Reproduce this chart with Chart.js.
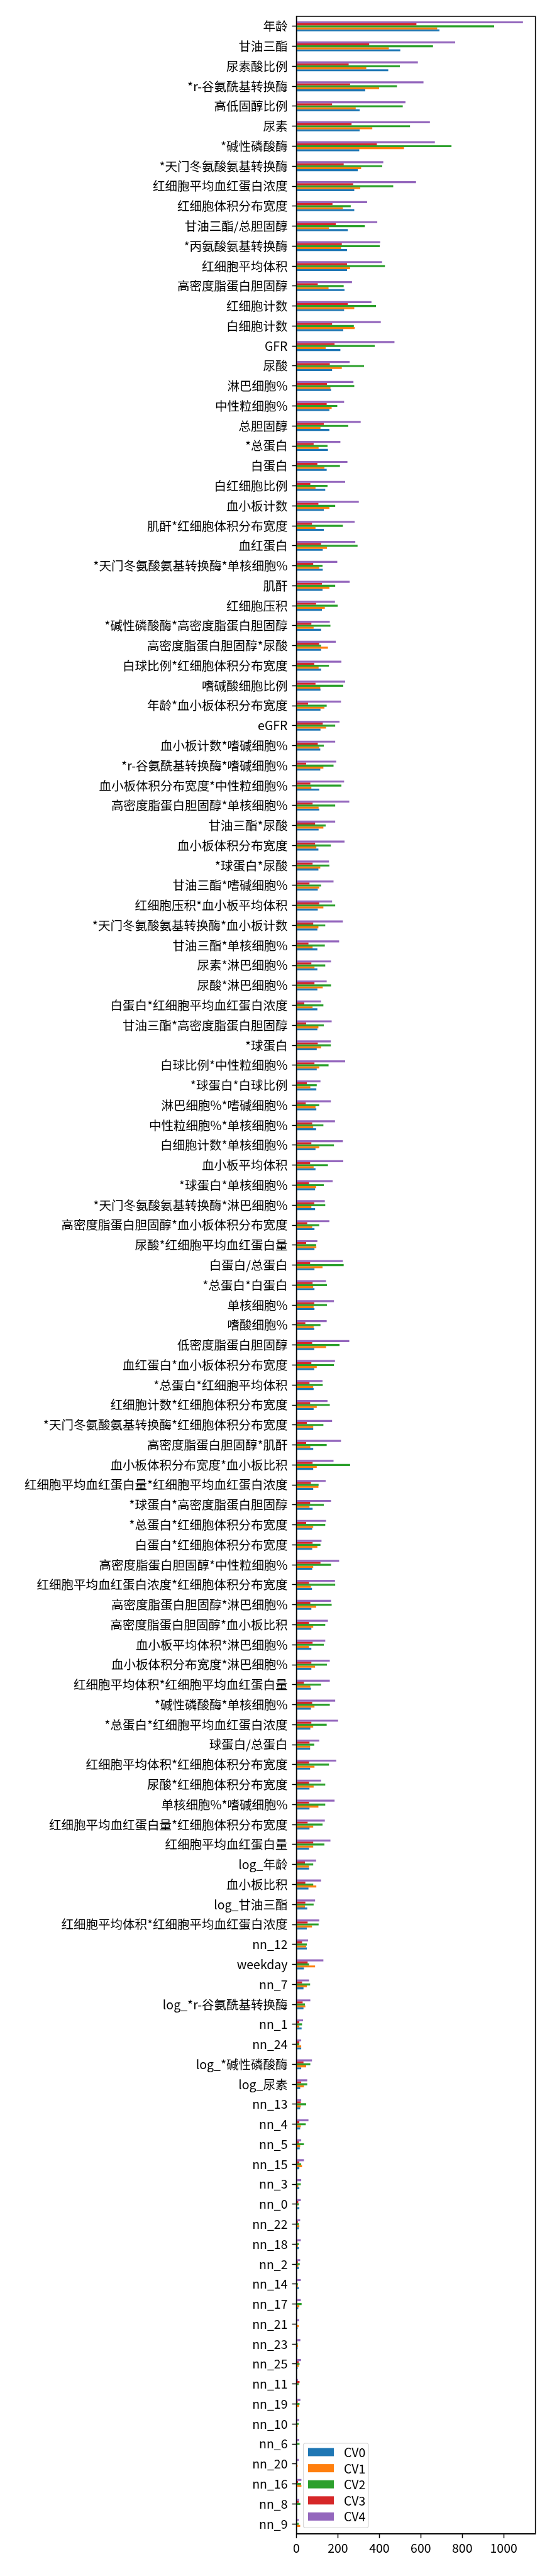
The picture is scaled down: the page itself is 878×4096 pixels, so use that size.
<!DOCTYPE html>
<html><head><meta charset="utf-8">
<script src="https://cdn.jsdelivr.net/npm/chart.js@4.4.1/dist/chart.umd.min.js"></script>
<style>html,body{margin:0;padding:0;background:#fff;} canvas{display:block;}</style>
</head><body>
<canvas id="c" width="878" height="4096" style="width:878px;height:4096px"></canvas>
<script>
const categories = ["年龄","甘油三酯","尿素酸比例","*r-谷氨酰基转换酶","高低固醇比例","尿素","*碱性磷酸酶","*天门冬氨酸氨基转换酶","红细胞平均血红蛋白浓度","红细胞体积分布宽度",
"甘油三酯/总胆固醇","*丙氨酸氨基转换酶","红细胞平均体积","高密度脂蛋白胆固醇","红细胞计数","白细胞计数","GFR","尿酸","淋巴细胞%","中性粒细胞%",
"总胆固醇","*总蛋白","白蛋白","白红细胞比例","血小板计数","肌酐*红细胞体积分布宽度","血红蛋白","*天门冬氨酸氨基转换酶*单核细胞%","肌酐","红细胞压积",
"*碱性磷酸酶*高密度脂蛋白胆固醇","高密度脂蛋白胆固醇*尿酸","白球比例*红细胞体积分布宽度","嗜碱酸细胞比例","年龄*血小板体积分布宽度","eGFR","血小板计数*嗜碱细胞%","*r-谷氨酰基转换酶*嗜碱细胞%","血小板体积分布宽度*中性粒细胞%","高密度脂蛋白胆固醇*单核细胞%",
"甘油三酯*尿酸","血小板体积分布宽度","*球蛋白*尿酸","甘油三酯*嗜碱细胞%","红细胞压积*血小板平均体积","*天门冬氨酸氨基转换酶*血小板计数","甘油三酯*单核细胞%","尿素*淋巴细胞%","尿酸*淋巴细胞%","白蛋白*红细胞平均血红蛋白浓度",
"甘油三酯*高密度脂蛋白胆固醇","*球蛋白","白球比例*中性粒细胞%","*球蛋白*白球比例","淋巴细胞%*嗜碱细胞%","中性粒细胞%*单核细胞%","白细胞计数*单核细胞%","血小板平均体积","*球蛋白*单核细胞%","*天门冬氨酸氨基转换酶*淋巴细胞%",
"高密度脂蛋白胆固醇*血小板体积分布宽度","尿酸*红细胞平均血红蛋白量","白蛋白/总蛋白","*总蛋白*白蛋白","单核细胞%","嗜酸细胞%","低密度脂蛋白胆固醇","血红蛋白*血小板体积分布宽度","*总蛋白*红细胞平均体积","红细胞计数*红细胞体积分布宽度",
"*天门冬氨酸氨基转换酶*红细胞体积分布宽度","高密度脂蛋白胆固醇*肌酐","血小板体积分布宽度*血小板比积","红细胞平均血红蛋白量*红细胞平均血红蛋白浓度","*球蛋白*高密度脂蛋白胆固醇","*总蛋白*红细胞体积分布宽度","白蛋白*红细胞体积分布宽度","高密度脂蛋白胆固醇*中性粒细胞%","红细胞平均血红蛋白浓度*红细胞体积分布宽度","高密度脂蛋白胆固醇*淋巴细胞%",
"高密度脂蛋白胆固醇*血小板比积","血小板平均体积*淋巴细胞%","血小板体积分布宽度*淋巴细胞%","红细胞平均体积*红细胞平均血红蛋白量","*碱性磷酸酶*单核细胞%","*总蛋白*红细胞平均血红蛋白浓度","球蛋白/总蛋白","红细胞平均体积*红细胞体积分布宽度","尿酸*红细胞体积分布宽度","单核细胞%*嗜碱细胞%",
"红细胞平均血红蛋白量*红细胞体积分布宽度","红细胞平均血红蛋白量","log_年龄","血小板比积","log_甘油三酯","红细胞平均体积*红细胞平均血红蛋白浓度","nn_12","weekday","nn_7","log_*r-谷氨酰基转换酶",
"nn_1","nn_24","log_*碱性磷酸酶","log_尿素","nn_13","nn_4","nn_5","nn_15","nn_3","nn_0",
"nn_22","nn_18","nn_2","nn_14","nn_17","nn_21","nn_23","nn_25","nn_11","nn_19",
"nn_10","nn_6","nn_20","nn_16","nn_8","nn_9"];

const cv0 = [690,501,443,332,305,305,303,296,279,279, 248,244,244,232,230,226,212,172,167,159,
159,152,146,139,132,132,127,127,126,123, 119,119,119,116,116,116,115,115,110,110,
107,106,106,103,103,101,101,101,101,101, 101,98,98,96,96,95,92,92,90,90,
87,87,87,87,87,86,86,86,83,83, 81,81,81,81,78,76,76,76,75,72,
72,72,72,70,70,67,66,66,63,63, 63,61,61,58,52,50,50,36,34,34,
25,23,23,18,18,18,16,14,14,14, 12,12,12,12,9,6,6,6,4,4, 4,4,4,4,3,1];
const cv1 = [679,446,337,399,286,366,519,312,308,224, 157,215,259,155,279,281,141,219,164,170,
116,107,135,92,159,92,147,110,159,137, 83,152,107,115,135,143,110,130,72,107,
130,96,115,110,130,106,78,87,127,78, 106,119,110,67,92,81,110,83,95,72,
76,96,126,81,83,83,143,98,81,98, 81,67,98,106,63,81,101,81,70,95,
81,61,90,67,87,81,66,87,83,106, 81,81,61,96,41,75,47,90,50,43,
14,23,47,36,21,21,18,27,9,5, 14,7,9,7,14,11,8,11,1,13, 6,1,6,24,1,18];
const cv2 = [954,659,499,485,513,548,748,414,467,262, 330,402,427,228,384,277,378,326,279,197,
250,150,210,150,187,224,295,126,187,199, 164,119,157,226,146,187,132,179,217,187,
141,166,159,119,187,139,137,139,167,130, 132,166,155,98,110,130,181,152,132,139,
110,95,228,147,147,116,208,181,127,161, 130,146,259,107,132,139,116,167,187,170,
139,132,147,119,161,146,86,157,139,139, 126,135,81,81,83,107,50,61,66,41,
27,14,67,52,47,45,36,23,21,12, 12,12,16,7,25,3,6,15,11,15, 11,15,1,22,19,11];
const cv3 = [579,351,252,259,172,266,388,228,274,174, 190,219,244,103,248,172,184,161,147,146,
132,83,101,67,106,75,119,81,123,95, 72,110,86,92,56,127,103,47,67,78,
90,90,78,63,110,81,58,72,87,38, 47,103,87,50,45,76,72,66,61,86,
52,47,66,78,86,43,76,72,63,66, 50,47,78,70,66,47,78,116,61,67,
61,78,72,36,76,72,63,61,61,61, 54,81,41,43,43,54,27,54,27,30,
14,14,34,23,21,14,12,14,3,9, 7,5,7,2,4,2,2,11,15,6, 1,2,1,8,11,1];
const cv4 = [1093,766,586,613,526,644,668,419,577,341, 390,404,413,268,362,407,473,257,275,230,
310,212,246,235,301,281,284,197,257,186, 161,190,217,235,215,208,187,192,230,255,
187,232,157,179,172,224,206,167,146,119, 170,166,235,116,166,186,224,226,175,137,
159,101,224,143,181,146,255,186,126,150, 172,215,179,141,167,143,121,206,186,167,
152,139,161,161,187,201,110,192,119,184, 137,164,95,119,90,110,56,130,61,67,
32,23,75,52,23,58,23,36,23,21, 18,21,18,21,21,13,19,22,8,19, 13,13,11,24,13,11];

const seriesNames = ['CV0','CV1','CV2','CV3','CV4'];
const seriesValues = [cv0, cv1, cv2, cv3, cv4];
const seriesColors = ['#1f77b4','#ff7f0e','#2ca02c','#d62728','#9467bd'];
const xTicks = [0,200,400,600,800,1000];
const xMax = 1153;

const FONT = "'Noto Sans CJK SC', 'Noto Sans', sans-serif";
const FSIZE = 19.5;

// matplotlib draws CV0 lowest in each group; Chart.js puts dataset 0 on top, so add in reverse
const datasets = [];
for (let i = seriesNames.length - 1; i >= 0; i--) {
  datasets.push({
    label: seriesNames[i],
    data: seriesValues[i],
    backgroundColor: seriesColors[i],
    borderWidth: 0,
    categoryPercentage: 0.5,
    barPercentage: 1.0
  });
}

const framePlugin = {
  id: 'frame',
  afterDraw(chart) {
    const a = chart.chartArea, ctx = chart.ctx;
    ctx.save();
    ctx.strokeStyle = '#000';
    ctx.lineWidth = 1.5;
    ctx.strokeRect(a.left, a.top, a.right - a.left, a.bottom - a.top);
    ctx.restore();
  }
};

const legendPlugin = {
  id: 'boxLegend',
  afterDraw(chart) {
    const a = chart.chartArea, ctx = chart.ctx;
    const items = chart.data.datasets.slice().sort((p, q) => p.label.localeCompare(q.label));
    const bx = a.left + 11, bw = 103.5, rowH = 25.6, bh = 134;
    const by = a.bottom - 10 - bh;
    ctx.save();
    ctx.beginPath();
    const r = 3;
    ctx.moveTo(bx + r, by);
    ctx.arcTo(bx + bw, by, bx + bw, by + bh, r);
    ctx.arcTo(bx + bw, by + bh, bx, by + bh, r);
    ctx.arcTo(bx, by + bh, bx, by, r);
    ctx.arcTo(bx, by, bx + bw, by, r);
    ctx.closePath();
    ctx.fillStyle = 'rgba(255,255,255,0.8)';
    ctx.fill();
    ctx.strokeStyle = '#d6d6d6';
    ctx.lineWidth = 1.2;
    ctx.stroke();
    ctx.font = FSIZE + "px " + FONT;
    ctx.textBaseline = 'middle';
    items.forEach((d, k) => {
      const cy = by + 14 + rowH * k;
      ctx.fillStyle = d.backgroundColor;
      ctx.fillRect(bx + 7.5, cy - 6.5, 41, 13);
      ctx.fillStyle = '#000';
      ctx.fillText(d.label, bx + 64.5, cy + 0.5);
    });
    ctx.restore();
  }
};

new Chart(document.getElementById('c'), {
  type: 'bar',
  data: { labels: categories, datasets: datasets },
  options: {
    indexAxis: 'y',
    responsive: false,
    animation: false,
    devicePixelRatio: 1,
    layout: { padding: { top: 26, right: 26.4, left: 0, bottom: 0 } },
    plugins: {
      legend: { display: false },
      tooltip: { enabled: false },
      title: { display: false }
    },
    scales: {
      x: {
        type: 'linear',
        min: 0,
        max: xMax,
        afterBuildTicks: (s) => { s.ticks = xTicks.map(v => ({ value: v })); },
        afterFit: (s) => { s.height = 67; },
        grid: { display: true, drawOnChartArea: false, drawTicks: true, tickLength: 7, tickWidth: 1.5, tickColor: '#000' },
        border: { display: true, color: '#000', width: 1.5 },
        ticks: { color: '#000', font: { family: FONT, size: FSIZE }, padding: 4, maxRotation: 0,
                 callback: (v) => String(v) }
      },
      y: {
        type: 'category',
        afterFit: (s) => { s.width = 471.5; },
        grid: { display: true, drawOnChartArea: false, drawTicks: true, tickLength: 7, tickWidth: 1.5, tickColor: '#000', offset: false },
        border: { display: true, color: '#000', width: 1.5 },
        ticks: { color: '#000', font: { family: FONT, size: FSIZE }, padding: 7, autoSkip: false }
      }
    }
  },
  plugins: [framePlugin, legendPlugin]
});
</script>
</body></html>
